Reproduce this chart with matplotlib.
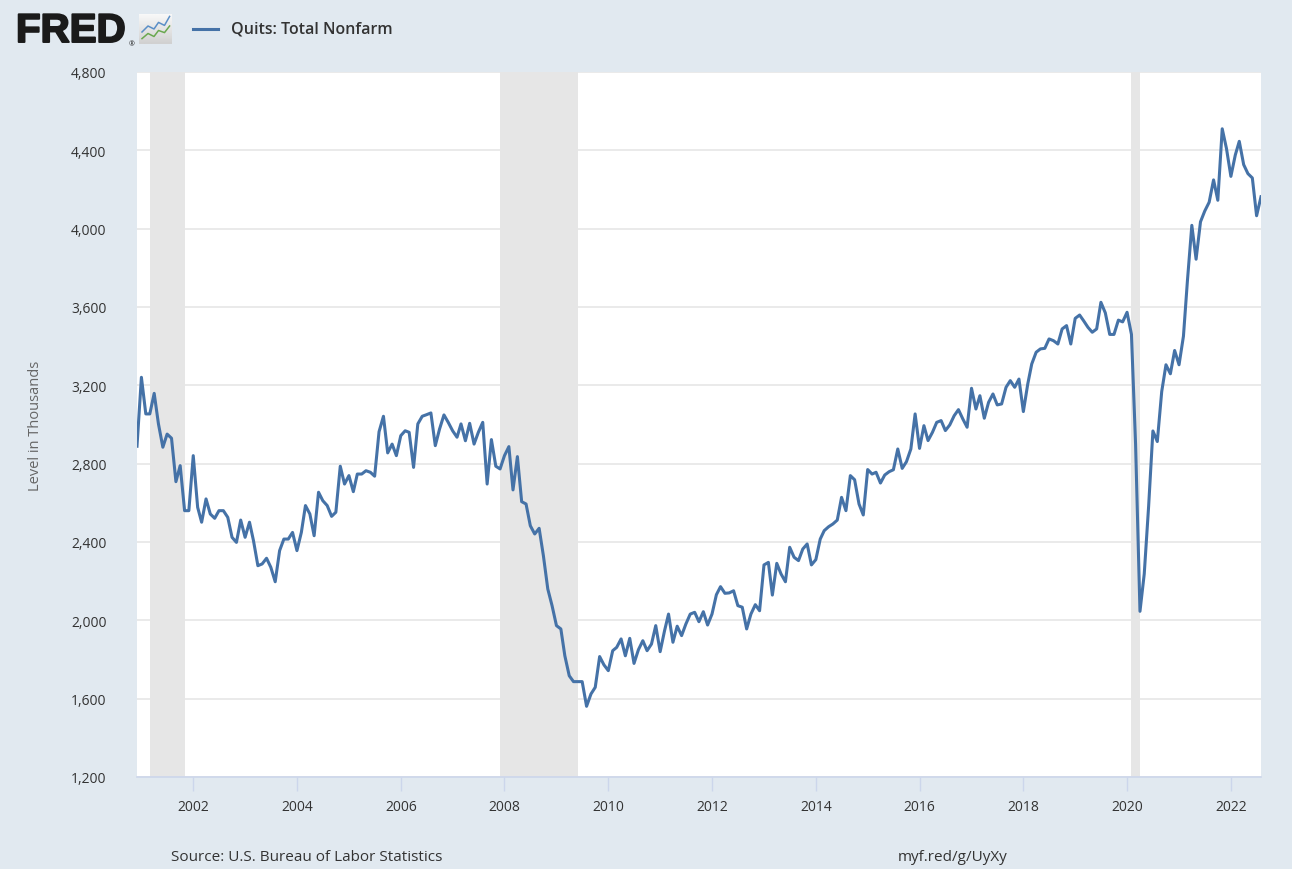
import numpy as np
import pandas as pd
import matplotlib
matplotlib.use('Agg')
from matplotlib import pyplot as plt
from matplotlib import dates as mdates
from matplotlib import patheffects as pe

# Quits: Total Nonfarm, monthly, thousands, Dec 2000 - Aug 2022
quits = [
    2889, 3241, 3054, 3054, 3159, 3003, 2884, 2951, 2930, 2708, 2790, 2560, 2560,   # 2000-12 .. 2001-12
    2841, 2577, 2501, 2620, 2543, 2521, 2560, 2560, 2526, 2424, 2398, 2512,         # 2002
    2424, 2501, 2407, 2279, 2288, 2317, 2271, 2197, 2356, 2415, 2415, 2449,         # 2003
    2356, 2449, 2586, 2543, 2432, 2654, 2611, 2586, 2531, 2552, 2787, 2696,         # 2004
    2739, 2657, 2747, 2747, 2764, 2756, 2736, 2963, 3042, 2855, 2900, 2841,         # 2005
    2943, 2968, 2960, 2781, 3003, 3042, 3050, 3059, 2892, 2977, 3049, 3011,         # 2006
    2968, 2935, 3003, 2917, 3006, 2900, 2960, 3011, 2696, 2923, 2787, 2773,         # 2007
    2841, 2887, 2666, 2836, 2606, 2594, 2483, 2441, 2470, 2330, 2160, 2075,         # 2008
    1973, 1956, 1819, 1717, 1687, 1687, 1687, 1561, 1624, 1658, 1815, 1773,         # 2009
    1743, 1845, 1862, 1905, 1819, 1908, 1780, 1850, 1896, 1845, 1879, 1973,         # 2010
    1840, 1947, 2032, 1888, 1970, 1922, 1981, 2032, 2041, 1993, 2044, 1976,         # 2011
    2032, 2131, 2172, 2138, 2140, 2151, 2075, 2067, 1956, 2032, 2080, 2049,         # 2012
    2283, 2296, 2129, 2291, 2237, 2197, 2373, 2322, 2305, 2364, 2390, 2283,         # 2013
    2310, 2415, 2458, 2478, 2492, 2512, 2628, 2560, 2739, 2718, 2594, 2538,         # 2014
    2770, 2747, 2756, 2701, 2742, 2759, 2769, 2875, 2776, 2810, 2875, 3054,         # 2015
    2878, 2994, 2918, 2960, 3011, 3020, 2969, 2998, 3045, 3076, 3028, 2986,         # 2016
    3185, 3079, 3147, 3032, 3113, 3156, 3100, 3105, 3190, 3224, 3190, 3232,         # 2017
    3066, 3207, 3309, 3369, 3386, 3389, 3437, 3428, 3411, 3488, 3505, 3411,         # 2018
    3542, 3559, 3530, 3496, 3471, 3488, 3624, 3570, 3460, 3460, 3533, 3524,         # 2019
    3573, 3460, 2900, 2046, 2237, 2584, 2967, 2913, 3168, 3305, 3259, 3378,         # 2020
    3305, 3451, 3734, 4017, 3844, 4035, 4090, 4135, 4249, 4145, 4510, 4409,         # 2021
    4267, 4376, 4446, 4327, 4281, 4259, 4066, 4163,                                 # 2022
]
dates = pd.date_range('2000-12-01', periods=len(quits), freq='MS')

# NBER recessions shaded by FRED
recessions = [('2001-03-01', '2001-11-01'),
              ('2007-12-01', '2009-06-01'),
              ('2020-02-01', '2020-04-01')]

yticks = list(range(1200, 4801, 400))
xtick_years = list(range(2002, 2023, 2))

bg = '#e1e9f0'
line_color = '#4572a7'

plt.rcParams['font.family'] = ['Open Sans', 'DejaVu Sans']

fig = plt.figure(figsize=(12.92, 8.70), dpi=100)
fig.patch.set_facecolor(bg)

W, H = 1292, 870
ax = fig.add_axes([137 / W, 1 - 778 / H, (1261 - 137) / W, (778 - 73) / H])
ax.set_facecolor('white')

for start, end in recessions:
    ax.axvspan(pd.Timestamp(start), pd.Timestamp(end), color='#e6e6e6', lw=0, zorder=1)

ax.plot(dates, quits, color=line_color, lw=2.2, zorder=3, solid_joinstyle='round')

ax.set_xlim(dates[0], dates[-1])
ax.set_ylim(1200, 4800)
ax.set_yticks(yticks)
ax.set_yticklabels([f'{v:,}' for v in yticks])
ax.set_xticks([pd.Timestamp(f'{yr}-01-01') for yr in xtick_years])
ax.xaxis.set_major_formatter(mdates.DateFormatter('%Y'))

ax.grid(axis='y', color='#e6e6e6', lw=1.2, zorder=0)
ax.set_axisbelow(True)

for s in ['left', 'right', 'top']:
    ax.spines[s].set_visible(False)
ax.spines['bottom'].set_color('#ccd6eb')
ax.spines['bottom'].set_linewidth(1.2)

ax.tick_params(axis='x', colors='#ccd6eb', length=10, width=1, labelcolor='#333333',
               labelsize=10, pad=6)
ax.tick_params(axis='y', length=0, labelcolor='#333333', labelsize=10, pad=22)

ax.set_ylabel('Level in Thousands', color='#666666', fontsize=10.5)
ax.yaxis.set_label_coords(-0.084, 0.5)

# FRED logo (heavy letters faked with a thin stroke)
fig.text(16 / W, 1 - 32 / H, 'FRED', fontsize=29, fontweight='bold', color='#1a1a1a',
         family=['Liberation Sans', 'DejaVu Sans'], va='center', ha='left',
         path_effects=[pe.withStroke(linewidth=1.4, foreground='#1a1a1a')])
fig.text(129 / W, 1 - 45 / H, '®', fontsize=5, color='#1a1a1a', va='center', ha='left')
icon = fig.add_axes([139 / W, 1 - 45 / H, 33 / W, 30 / H])
icon.imshow(np.linspace(0.97, 0.82, 20).reshape(-1, 1), cmap='gray', vmin=0, vmax=1,
            aspect='auto', extent=(-0.05, 1.05, 0, 1))
icon.plot([0.05, 0.25, 0.45, 0.6, 0.8, 0.97], [0.4, 0.6, 0.5, 0.72, 0.62, 0.92], color='#5b8fc7', lw=1.1)
icon.plot([0.05, 0.25, 0.45, 0.6, 0.8, 0.97], [0.18, 0.35, 0.25, 0.45, 0.38, 0.6], color='#6aa84f', lw=1.1)
icon.set_xlim(-0.05, 1.05)
icon.set_ylim(0, 1)
icon.set_xticks([])
icon.set_yticks([])
for s in icon.spines.values():
    s.set_visible(False)

# legend
fig.add_artist(plt.Line2D([193 / W, 218 / W], [1 - 30 / H, 1 - 30 / H], color=line_color, lw=2.2))
fig.text(231 / W, 1 - 30 / H, 'Quits: Total Nonfarm', fontsize=11.5, color='#333333',
         fontweight='semibold', va='center', ha='left')

# footer
fig.text(171 / W, 1 - 858 / H, 'Source: U.S. Bureau of Labor Statistics', fontsize=11,
         color='#333333', va='center', ha='left')
fig.text(898 / W, 1 - 858 / H, 'myf.red/g/UyXy', fontsize=11, color='#333333',
         va='center', ha='left')

fig.savefig('out.png', dpi=100, facecolor=bg)
